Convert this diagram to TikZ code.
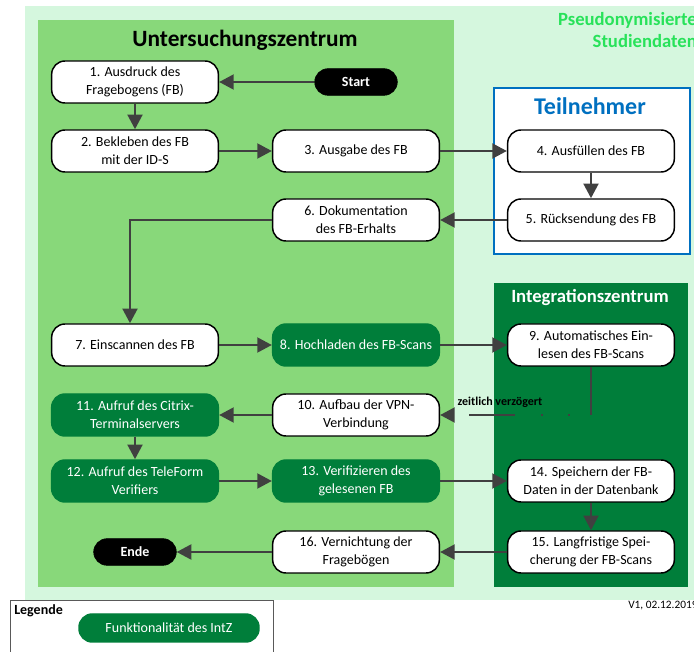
\documentclass[tikz,border=0pt]{standalone}
\usepackage{fontspec}
\setmainfont{Carlito}
\usepackage{xcolor}
\usepackage{tikz}
\usetikzlibrary{arrows.meta, positioning, shapes, calc}
\definecolor{bgmint}{RGB}{213,247,222}
\definecolor{uzgreen}{RGB}{136,216,122}
\definecolor{intzgreen}{RGB}{0,126,58}
\definecolor{tnblue}{RGB}{0,112,192}
\definecolor{pseudogreen}{RGB}{40,226,90}
\definecolor{arrowgray}{RGB}{64,64,64}

\tikzset{
  stepbox/.style={draw=black, line width=1.1pt, fill=white, rounded corners=10pt,
    minimum width=125pt, minimum height=31.5pt, align=center, inner sep=2pt,
    font=\fontsize{10.5}{13.5}\selectfont},
  intzbox/.style={stepbox, draw=intzgreen, fill=intzgreen, text=white},
  terminal/.style={draw=black, fill=black, text=white, rounded corners=10pt,
    minimum width=62pt, minimum height=20pt, font=\bfseries\fontsize{10.5}{13}\selectfont},
  flow/.style={draw=arrowgray, line width=2.2pt, -{Triangle[length=11pt,width=11pt]}},
}

\begin{document}
\begin{tikzpicture}[x=0.75pt, y=-0.75pt]
	\useasboundingbox (0,0) rectangle (694,652);
	
	%% spalten und zeilen
	\pgfmathsetmacro{\colA}{135}
	\pgfmathsetmacro{\colB}{356}
	\pgfmathsetmacro{\colC}{591}
	
	%% bereiche
	\fill[bgmint] (25,6) rectangle (700,600);
	\fill[uzgreen] (38,20) rectangle (454,587);
	\fill[intzgreen] (494,283) rectangle (688,587);
	\draw[tnblue, line width=2pt, fill=white] (494,88) rectangle (690,254);
	
	\node[font=\bfseries\fontsize{17.5}{20}\selectfont] (uztitle) at (245,40) {Untersuchungszentrum};
	\node[font=\bfseries\fontsize{18}{21}\selectfont, text=tnblue] (tntitle) at (590,106) {Teilnehmer};
	\node[font=\bfseries\fontsize{14}{16}\selectfont, text=white] (intztitle) at (590,298) {Integrationszentrum};
	\node[font=\bfseries\fontsize{14}{16.5}\selectfont, text=pseudogreen, align=right, anchor=north east, inner sep=0pt] (pseudo) at (697,12) {Pseudonymisierte\\Studiendaten};
	
	%% schritte
	\node[terminal] (start) at (\colB,82) {Start};
	\node[stepbox] (s1) at (\colA,82) {1. Ausdruck des\\Fragebogens (FB)};
	\node[stepbox] (s2) at (\colA,151) {2. Bekleben des FB\\mit der ID-S};
	\node[stepbox] (s3) at (\colB,151) {3. Ausgabe des FB};
	\node[stepbox] (s4) at (\colC,151) {4. Ausfüllen des FB};
	\node[stepbox] (s5) at (\colC,220) {5. Rücksendung des FB};
	\node[stepbox] (s6) at (\colB,220) {6. Dokumentation\\des FB-Erhalts};
	\node[stepbox] (s7) at (\colA,345) {7. Einscannen des FB};
	\node[intzbox] (s8) at (\colB,345) {8. Hochladen des FB-Scans};
	\node[stepbox] (s9) at (\colC,345) {9. Automatisches Ein-\\lesen des FB-Scans};
	\node[stepbox] (s10) at (\colB,415) {10. Aufbau der VPN-\\Verbindung};
	\node[intzbox] (s11) at (\colA,415) {11. Aufruf des Citrix-\\Terminalservers};
	\node[intzbox] (s12) at (\colA,481) {12. Aufruf des TeleForm\\Verifiers};
	\node[intzbox] (s13) at (\colB,481) {13. Verifizieren des\\gelesenen FB};
	\node[stepbox] (s14) at (\colC,481) {14. Speichern der FB-\\Daten in der Datenbank};
	\node[stepbox] (s15) at (\colC,552) {15. Langfristige Spei-\\cherung der FB-Scans};
	\node[stepbox] (s16) at (\colB,552) {16. Vernichtung der\\Fragebögen};
	\node[terminal] (ende) at (\colA,552) {Ende};
	
	%% pfeile
	\draw[flow] (start) -- (s1);
	\draw[flow] (s1) -- (s2);
	\draw[flow] (s2) -- (s3);
	\draw[flow] (s3) -- (s4);
	\draw[flow] (s4) -- (s5);
	\draw[flow] (s5) -- (s6);
	\draw[flow] (s6.west) -| ($(s7.north)+(-5,0)$);
	\draw[flow] (s7) -- (s8);
	\draw[flow] (s8) -- (s9);
	\draw[flow, dash pattern=on 36pt off 16pt on 1.5pt off 19pt on 1.5pt off 19.5pt on 34pt off 40pt] (s9.south) |- (s10.east);
	\node[font=\bfseries\fontsize{9}{10}\selectfont] (delay) at (500,402) {zeitlich verzögert};
	\draw[flow] (s10) -- (s11);
	\draw[flow] (s11) -- (s12);
	\draw[flow] (s12) -- (s13);
	\draw[flow] (s13) -- (s14);
	\draw[flow] (s14) -- (s15);
	\draw[flow] (s15) -- (s16);
	\draw[flow] (s16) -- (ende);
	
	%% legende
	\draw[gray!70!black, line width=0.6pt] (10,600) rectangle (273,665);
	\node[font=\bfseries\fontsize{10.5}{12}\selectfont, anchor=north west, inner sep=0pt] (legtitle) at (14,604) {Legende};
	\node[intzbox, minimum width=135pt, minimum height=21pt] (legpill) at (169,628) {Funktionalität des IntZ};
	\node[font=\fontsize{8.5}{10}\selectfont, anchor=west, inner sep=0pt] (version) at (628,606) {V1, 02.12.2019};
\end{tikzpicture}
\end{document}
